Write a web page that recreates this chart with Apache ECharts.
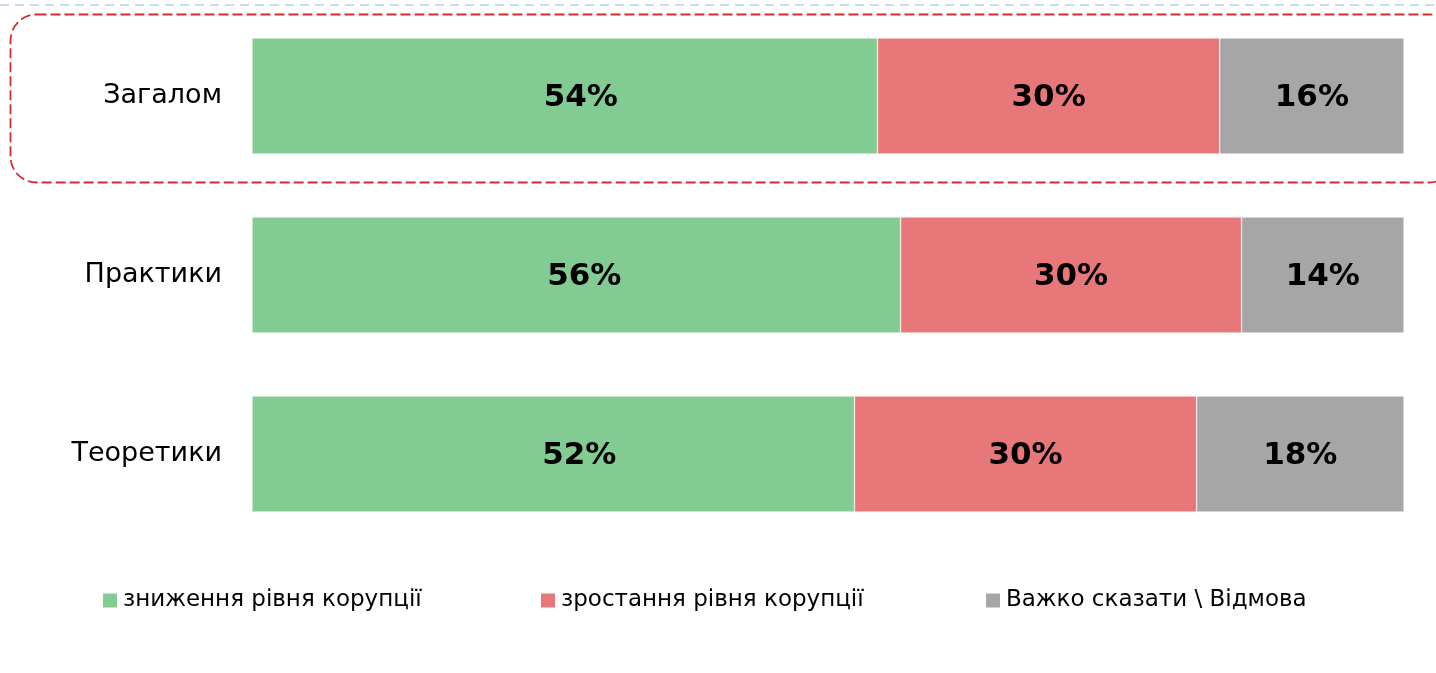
<!DOCTYPE html>
<html><head><meta charset="utf-8">
<script src="https://cdn.jsdelivr.net/npm/echarts@6/dist/echarts.min.js"></script>
<style>html,body{margin:0;padding:0;background:#fff}#c{width:1436px;height:673px}</style>
</head><body><div id="c"></div>
<script>
const categories = ['Загалом', 'Практики', 'Теоретики'];
const seriesNames = ['зниження рівня корупції', 'зростання рівня корупції', 'Важко сказати \\ Відмова'];
const decrease = [54.3, 56.3, 52.3];
const increase = [29.7, 29.6, 29.7];
const hardToSay = [16.0, 14.1, 18.0];
const labelsDecrease = ['54%', '56%', '52%'];
const labelsIncrease = ['30%', '30%', '30%'];
const labelsHard = ['16%', '14%', '18%'];
const colors = ['#82CC94', '#E8777A', '#A6A6A6'];

const chart = echarts.init(document.getElementById('c'), null, {renderer: 'canvas'});
function mk(name, data, labels, color, shifts) {
  return {
    name, type: 'bar', stack: 'a', barWidth: 116,
    data: data.map((v, i) => ({value: v, label: {offset: [shifts ? shifts[i] : 0, 2]}})),
    itemStyle: {color, borderColor: '#fff', borderWidth: 0.5},
    label: {show: true, position: 'inside', formatter: p => labels[p.dataIndex],
      fontFamily: 'DejaVu Sans', fontWeight: 'bold', fontSize: 31, color: '#000'}
  };
}
const legendCommon = {top: 584, itemWidth: 14, itemHeight: 14, itemGap: 6,
  textStyle: {fontFamily: 'DejaVu Sans', fontSize: 23, color: '#000', padding: [0, 0, 0, 1]}};
function legendItem(i) {
  return {name: seriesNames[i], icon: 'rect', itemStyle: {color: colors[i], borderWidth: 0}};
}
chart.setOption({
  animation: false,
  grid: {left: 252, right: 32, top: 6.5, bottom: 129.5},
  xAxis: {type: 'value', min: 0, max: 100, show: false},
  yAxis: {type: 'category', data: categories, inverse: true,
    axisLine: {show: false}, axisTick: {show: false},
    axisLabel: {fontFamily: 'DejaVu Sans', fontSize: 27, color: '#000', margin: 30}},
  legend: [
    Object.assign({left: 98, data: [legendItem(0)]}, legendCommon),
    Object.assign({left: 536, data: [legendItem(1)]}, legendCommon),
    Object.assign({left: 981, data: [legendItem(2)]}, legendCommon)
  ],
  graphic: [
    {type: 'line', shape: {x1: 0, y1: 5, x2: 1436, y2: 5}, style: {stroke: '#CCDBEF', lineWidth: 2, lineDash: [9, 6]}},
    {type: 'rect', shape: {x: 10.5, y: 14.5, width: 1445, height: 168, r: 26}, style: {fill: 'none', stroke: '#D22B30', lineWidth: 1.8, lineDash: [10, 4]}}
  ],
  series: [
    mk(seriesNames[0], decrease, labelsDecrease, colors[0], [16, 8, 26]),
    mk(seriesNames[1], increase, labelsIncrease, colors[1]),
    mk(seriesNames[2], hardToSay, labelsHard, colors[2])
  ]
});
</script></body></html>
